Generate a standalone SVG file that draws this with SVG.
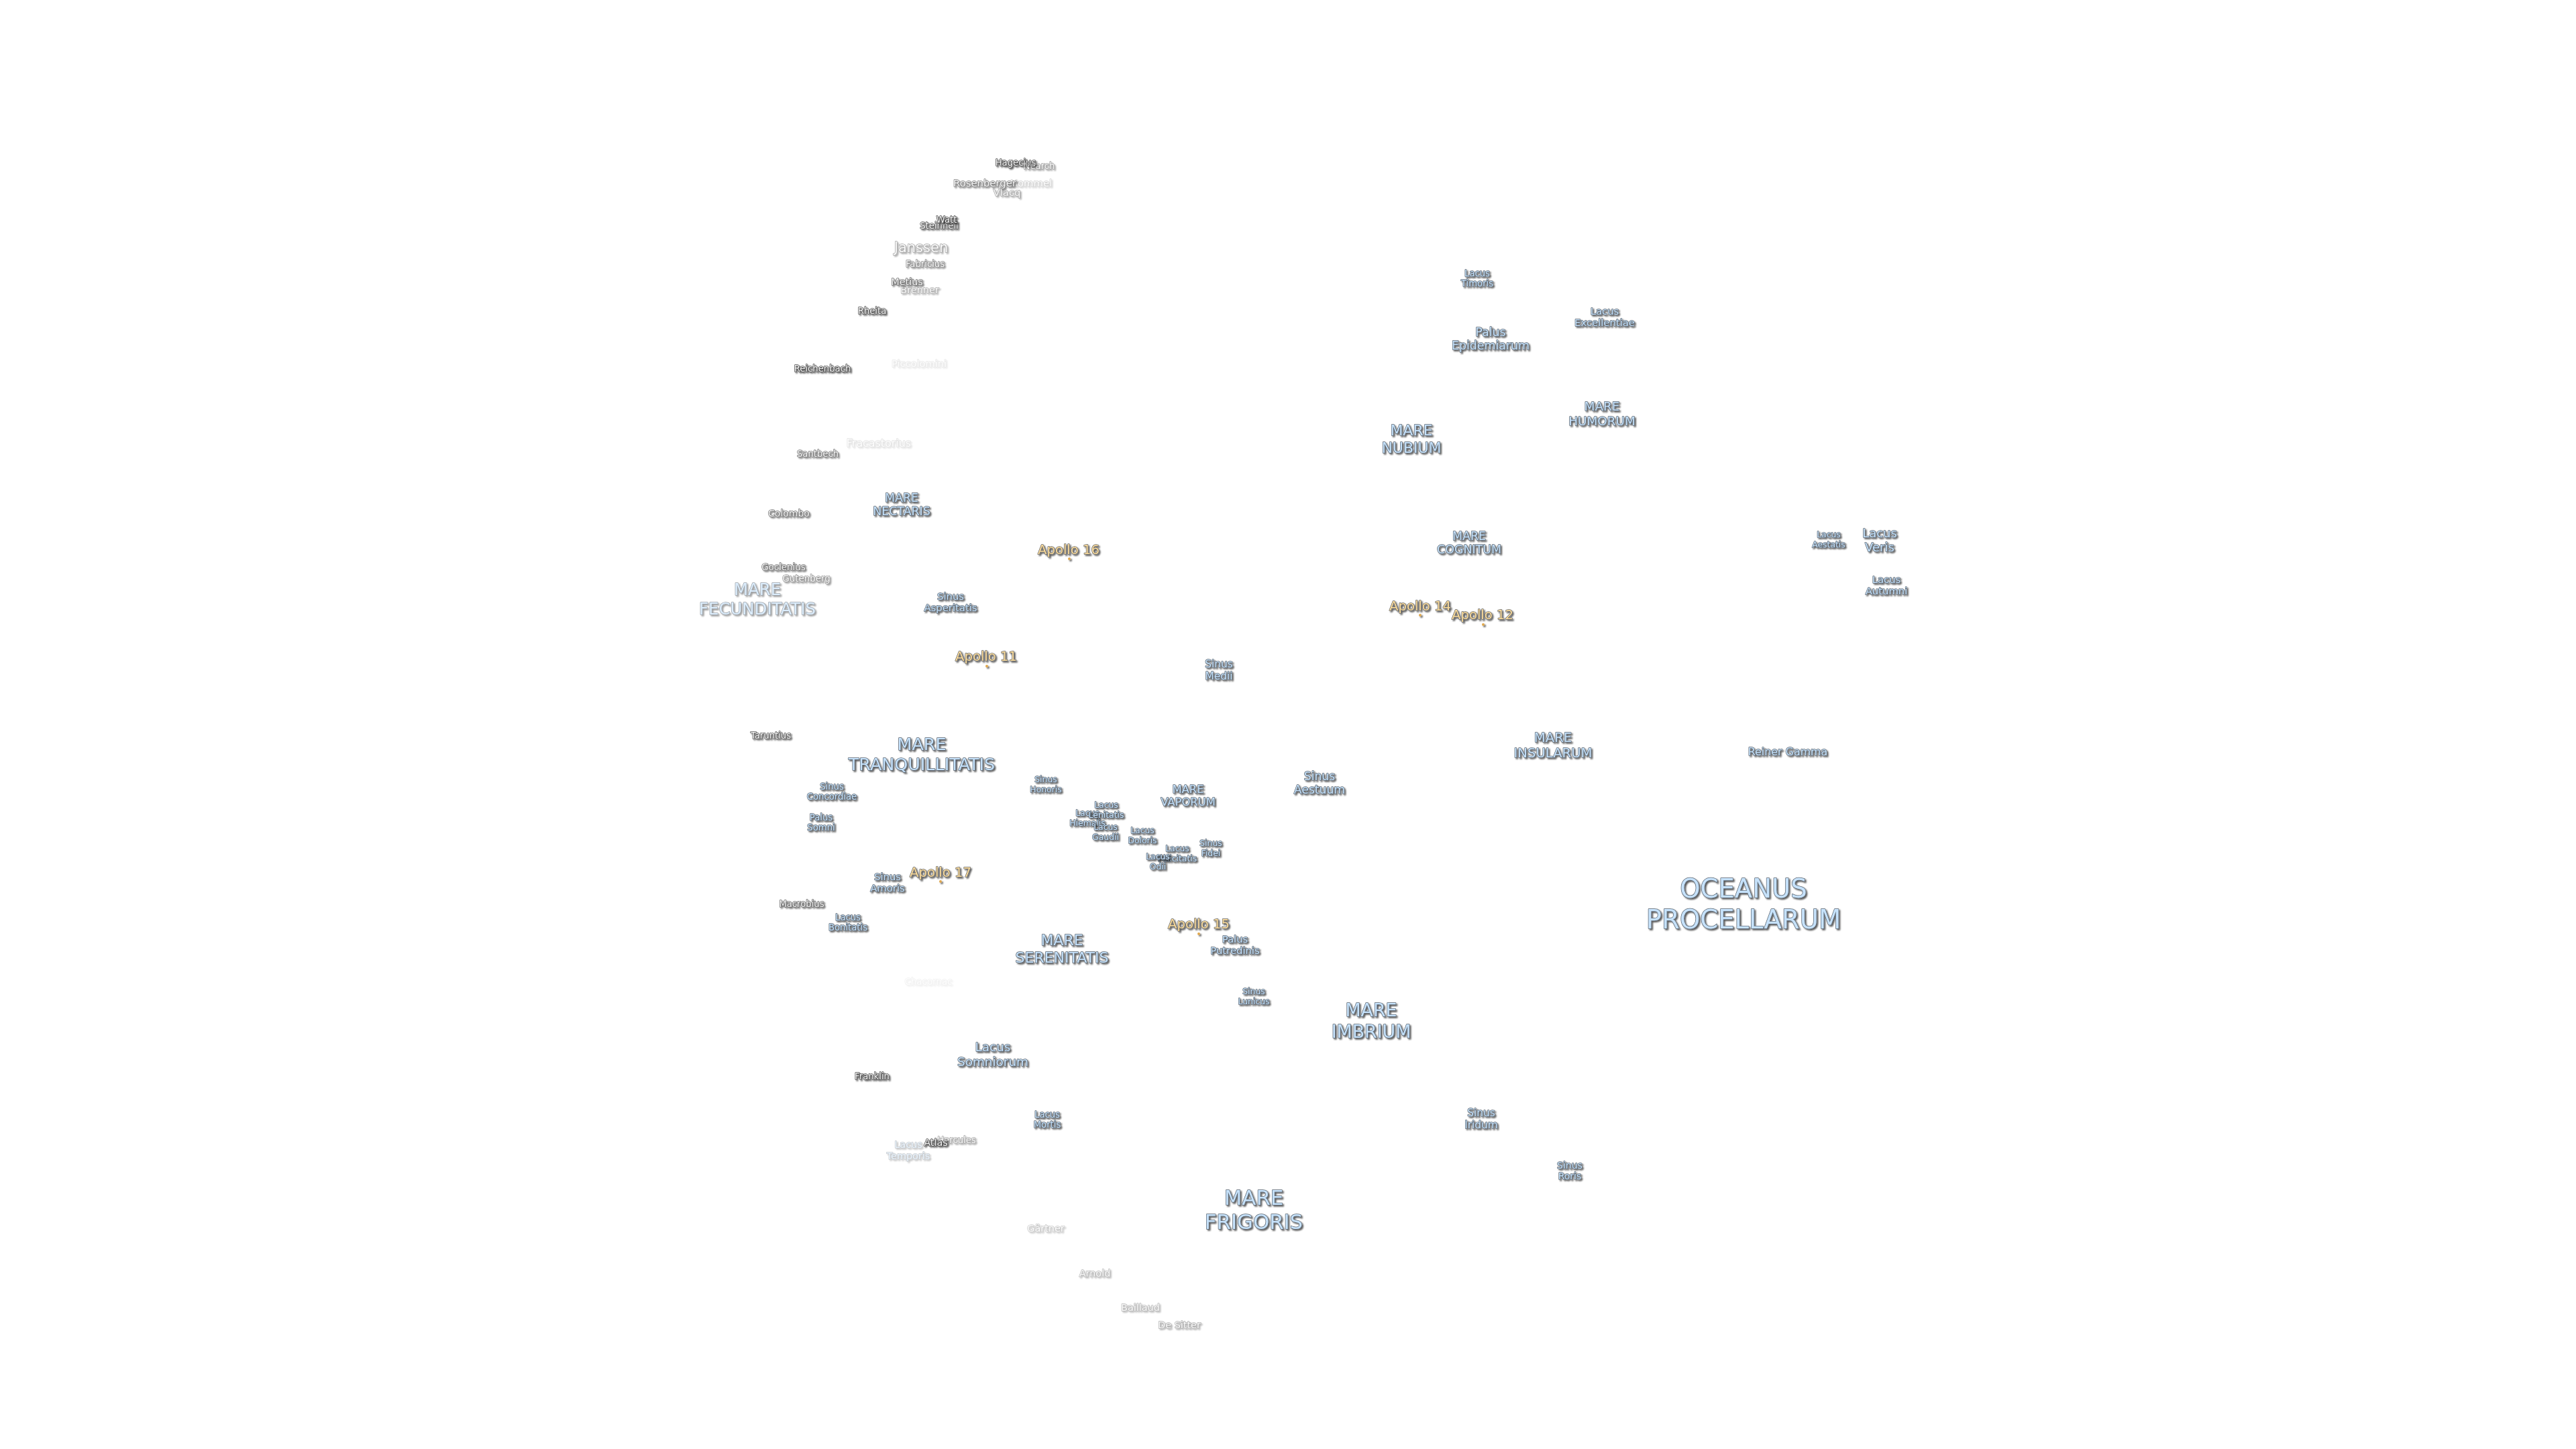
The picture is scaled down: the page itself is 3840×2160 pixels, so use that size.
<svg xmlns="http://www.w3.org/2000/svg" width="3840" height="2160" viewBox="0 0 3840 2160">
<style>
text{font-family:"DejaVu Sans",sans-serif;text-anchor:middle;paint-order:stroke;stroke-width:1.5;stroke-linejoin:round}
.m text{fill:#c6e2fb;stroke:#5a6570}
.c text{fill:#f6f6f6;stroke:#484848}
.a text{fill:#fbdc9c;stroke:#666}
.a circle{fill:#e0a850;r:2}
g.m,g.c,g.a{filter:url(#s)}
</style>
<defs>
<filter id="s" x="-15%" y="-30%" width="130%" height="160%">
<feGaussianBlur in="SourceAlpha" stdDeviation="1"/><feOffset dx="1.5" dy="2" result="o"/>
<feComponentTransfer in="o" result="d"><feFuncA type="linear" slope=".65"/></feComponentTransfer>
<feMerge result="u"><feMergeNode in="d"/><feMergeNode in="SourceGraphic"/></feMerge>
<feGaussianBlur in="u" stdDeviation=".5"/>
</filter>
</defs>
<rect width="3840" height="2160" fill="#fff"/>
<g id="labels" transform="translate(0,-1)">
<g id="oceanus-procellarum" class="m"><text x="2599" y="1339" font-size="38.6">OCEANUS<tspan x="2599" dy="1.19em">PROCELLARUM</tspan></text></g>
<g id="lacus-veris" class="m"><text x="2802" y="802" font-size="18">Lacus<tspan x="2802" dy="1.17em">Veris</tspan></text></g>
<g id="lacus-aestatis" class="m"><text x="2726" y="802" font-size="12.4">Lacus<tspan x="2726" dy="1.17em">Aestatis</tspan></text></g>
<g id="lacus-autumni" class="m"><text x="2812" y="870" font-size="14.8">Lacus<tspan x="2812" dy="1.17em">Autumni</tspan></text></g>
<g id="reiner-gamma" class="m"><text x="2665" y="1127" font-size="15.9">Reiner Gamma</text></g>
<g id="hagecius" class="c"><text x="1514" y="248" font-size="13.2">Hagecius</text></g>
<g id="nearch" class="c" opacity=".55"><text x="1549" y="253" font-size="13.2">Nearch</text></g>
<g id="hommel" class="c" opacity=".25"><text x="1537" y="279" font-size="14.8">Hommel</text></g>
<g id="rosenberger" class="c" opacity=".7"><text x="1468" y="279" font-size="14.8">Rosenberger</text></g>
<g id="vlacq" class="c" opacity=".5"><text x="1501" y="293" font-size="14.8">Vlacq</text></g>
<g id="steinheil" class="c" opacity=".9"><text x="1400" y="342" font-size="13.2">Steinheil</text></g>
<g id="watt" class="c"><text x="1411" y="333" font-size="13.2">Watt</text></g>
<g id="janssen" class="c" opacity=".5"><text x="1373" y="377" font-size="21">Janssen</text></g>
<g id="fabricius" class="c" opacity=".65"><text x="1379" y="399" font-size="13.2">Fabricius</text></g>
<g id="brenner" class="c" opacity=".45"><text x="1371" y="438" font-size="14.4">Brenner</text></g>
<g id="metius" class="c" opacity=".8"><text x="1352" y="426" font-size="14.4">Metius</text></g>
<g id="rheita" class="c" opacity=".95"><text x="1300" y="469" font-size="13.2">Rheita</text></g>
<g id="piccolomini" class="c" opacity=".13"><text x="1370" y="548" font-size="14.6">Piccolomini</text></g>
<g id="reichenbach" class="c"><text x="1226" y="555" font-size="13.2">Reichenbach</text></g>
<g id="fracastorius" class="c" opacity=".16"><text x="1310" y="667" font-size="15.9">Fracastorius</text></g>
<g id="santbech" class="c" opacity=".75"><text x="1219" y="682" font-size="13.2">Santbech</text></g>
<g id="mare-nectaris" class="m"><text x="1344" y="749" font-size="17.4">MARE<tspan x="1344" dy="1.17em">NECTARIS</tspan></text></g>
<g id="colombo" class="c" opacity=".8"><text x="1176" y="771" font-size="14">Colombo</text></g>
<g id="apollo-16" class="a"><text x="1593" y="827" font-size="19.6">Apollo 16</text><circle cx="1594" cy="834"/></g>
<g id="goclenius" class="c" opacity=".8"><text x="1168" y="851" font-size="13.4">Goclenius</text></g>
<g id="gutenberg" class="c" opacity=".6"><text x="1202" y="868" font-size="13.4">Gutenberg</text></g>
<g id="mare-fecunditatis" class="m" opacity=".6"><text x="1129" y="888" font-size="24.4">MARE<tspan x="1129" dy="1.18em">FECUNDITATIS</tspan></text></g>
<g id="sinus-asperitatis" class="m"><text x="1417" y="895" font-size="14.8">Sinus<tspan x="1417" dy="1.17em">Asperitatis</tspan></text></g>
<g id="apollo-11" class="a"><text x="1470" y="986" font-size="19.6">Apollo 11</text><circle cx="1471" cy="994"/></g>
<g id="sinus-medii" class="m"><text x="1817" y="996" font-size="15.4">Sinus<tspan x="1817" dy="1.17em">Medii</tspan></text></g>
<g id="taruntius" class="c" opacity=".9"><text x="1149" y="1102" font-size="13.2">Taruntius</text></g>
<g id="mare-tranquillitatis" class="m"><text x="1374" y="1119" font-size="25.4">MARE<tspan x="1374" dy="1.18em">TRANQUILLITATIS</tspan></text></g>
<g id="sinus-concordiae" class="m"><text x="1240" y="1178" font-size="13.2">Sinus<tspan x="1240" dy="1.17em">Concordiae</tspan></text></g>
<g id="palus-somni" class="m"><text x="1224" y="1224" font-size="13.2">Palus<tspan x="1224" dy="1.17em">Somni</tspan></text></g>
<g id="sinus-amoris" class="m"><text x="1323" y="1313" font-size="14.8">Sinus<tspan x="1323" dy="1.17em">Amoris</tspan></text></g>
<g id="apollo-17" class="a"><text x="1402" y="1308" font-size="19.6">Apollo 17</text><circle cx="1402" cy="1315"/></g>
<g id="macrobius" class="c" opacity=".85"><text x="1195" y="1353" font-size="13.2">Macrobius</text></g>
<g id="lacus-bonitatis" class="m"><text x="1264" y="1373" font-size="13.2">Lacus<tspan x="1264" dy="1.17em">Bonitatis</tspan></text></g>
<g id="chacornac" class="c" opacity=".08"><text x="1384" y="1469" font-size="13.4">Chacornac</text></g>
<g id="sinus-honoris" class="m"><text x="1559" y="1167" font-size="12.4">Sinus<tspan x="1559" dy="1.17em">Honoris</tspan></text></g>
<g id="lacus-hiemalis" class="m"><text x="1621" y="1217" font-size="12.4">Lacus<tspan x="1621" dy="1.17em">Hiemalis</tspan></text></g>
<g id="lacus-lenitatis" class="m"><text x="1649" y="1205" font-size="12.4">Lacus<tspan x="1649" dy="1.17em">Lenitatis</tspan></text></g>
<g id="lacus-gaudii" class="m"><text x="1648" y="1238" font-size="12.4">Lacus<tspan x="1648" dy="1.17em">Gaudii</tspan></text></g>
<g id="lacus-doloris" class="m"><text x="1703" y="1243" font-size="12.4">Lacus<tspan x="1703" dy="1.17em">Doloris</tspan></text></g>
<g id="lacus-felicitatis" class="m"><text x="1755" y="1270" font-size="12.4">Lacus<tspan x="1755" dy="1.17em">Felicitatis</tspan></text></g>
<g id="lacus-odii" class="m"><text x="1726" y="1282" font-size="12.4">Lacus<tspan x="1726" dy="1.17em">Odii</tspan></text></g>
<g id="sinus-fidei" class="m"><text x="1805" y="1262" font-size="12.4">Sinus<tspan x="1805" dy="1.17em">Fidei</tspan></text></g>
<g id="mare-vaporum" class="m"><text x="1771" y="1183" font-size="16.4">MARE<tspan x="1771" dy="1.17em">VAPORUM</tspan></text></g>
<g id="apollo-15" class="a"><text x="1787" y="1385" font-size="19.6">Apollo 15</text><circle cx="1787" cy="1393"/></g>
<g id="palus-putredinis" class="m"><text x="1841" y="1406" font-size="14.8">Palus<tspan x="1841" dy="1.17em">Putredinis</tspan></text></g>
<g id="mare-serenitatis" class="m"><text x="1583" y="1410" font-size="22">MARE<tspan x="1583" dy="1.18em">SERENITATIS</tspan></text></g>
<g id="lacus-somniorum" class="m"><text x="1480" y="1568" font-size="18.4">Lacus<tspan x="1480" dy="1.17em">Somniorum</tspan></text></g>
<g id="franklin" class="c"><text x="1300" y="1610" font-size="13.2">Franklin</text></g>
<g id="lacus-mortis" class="m"><text x="1561" y="1667" font-size="13.2">Lacus<tspan x="1561" dy="1.17em">Mortis</tspan></text></g>
<g id="lacus-temporis" class="m" opacity=".35"><text x="1354" y="1712" font-size="14.4">Lacus<tspan x="1354" dy="1.17em">Temporis</tspan></text></g>
<g id="hercules" class="c" opacity=".5"><text x="1426" y="1705" font-size="13.2">Hercules</text></g>
<g id="atlas" class="c"><text x="1395" y="1709" font-size="14.4">Atlas</text></g>
<g id="gartner" class="c" opacity=".3"><text x="1559" y="1837" font-size="14.4">Gärtner</text></g>
<g id="arnold" class="c" opacity=".4"><text x="1632" y="1904" font-size="14.4">Arnold</text></g>
<g id="baillaud" class="c" opacity=".4"><text x="1700" y="1955" font-size="14.4">Baillaud</text></g>
<g id="de-sitter" class="c" opacity=".45"><text x="1758" y="1981" font-size="14.4">De Sitter</text></g>
<g id="lacus-timoris" class="m"><text x="2202" y="413" font-size="13.2">Lacus<tspan x="2202" dy="1.17em">Timoris</tspan></text></g>
<g id="lacus-excellentiae" class="m"><text x="2392" y="470" font-size="14.8">Lacus<tspan x="2392" dy="1.17em">Excellentiae</tspan></text></g>
<g id="palus-epidemiarum" class="m"><text x="2222" y="502" font-size="17.4">Palus<tspan x="2222" dy="1.17em">Epidemiarum</tspan></text></g>
<g id="mare-nubium" class="m"><text x="2104" y="650" font-size="22">MARE<tspan x="2104" dy="1.18em">NUBIUM</tspan></text></g>
<g id="mare-humorum" class="m"><text x="2388" y="613" font-size="18.4">MARE<tspan x="2388" dy="1.17em">HUMORUM</tspan></text></g>
<g id="mare-cognitum" class="m"><text x="2190" y="806" font-size="17.4">MARE<tspan x="2190" dy="1.17em">COGNITUM</tspan></text></g>
<g id="apollo-14" class="a"><text x="2117" y="911" font-size="19.6">Apollo 14</text><circle cx="2117" cy="918"/></g>
<g id="apollo-12" class="a"><text x="2210" y="924" font-size="19.6">Apollo 12</text><circle cx="2211" cy="932"/></g>
<g id="sinus-lunicus" class="m"><text x="1869" y="1483" font-size="12.4">Sinus<tspan x="1869" dy="1.17em">Lunicus</tspan></text></g>
<g id="mare-imbrium" class="m"><text x="2044" y="1516" font-size="26.8">MARE<tspan x="2044" dy="1.18em">IMBRIUM</tspan></text></g>
<g id="sinus-iridum" class="m"><text x="2208" y="1665" font-size="15.4">Sinus<tspan x="2208" dy="1.17em">Iridum</tspan></text></g>
<g id="sinus-roris" class="m"><text x="2340" y="1743" font-size="14">Sinus<tspan x="2340" dy="1.17em">Roris</tspan></text></g>
<g id="mare-frigoris" class="m"><text x="1869" y="1797" font-size="30.8">MARE<tspan x="1869" dy="1.18em">FRIGORIS</tspan></text></g>
<g id="sinus-aestuum" class="m"><text x="1967" y="1164" font-size="17.2">Sinus<tspan x="1967" dy="1.17em">Aestuum</tspan></text></g>
<g id="mare-insularum" class="m"><text x="2315" y="1107" font-size="19.6">MARE<tspan x="2315" dy="1.17em">INSULARUM</tspan></text></g>
</g>
<g id="connectors"/>
</svg>
